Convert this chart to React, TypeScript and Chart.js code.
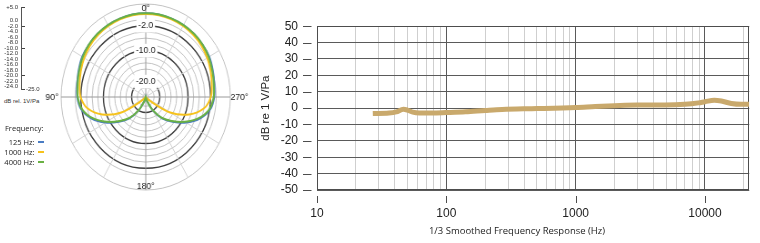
import React, { useEffect, useRef } from 'react';
import { Chart, registerables } from 'chart.js';

Chart.register(...registerables);

const SANS = '"Liberation Sans", Arial, sans-serif';
const OPEN = '"Open Sans", "Liberation Sans", sans-serif';

// ---------- Frequency response (right chart) ----------
const FR_FREQS = [27, 36, 41, 46.6, 50, 55, 62, 78, 100, 141, 200, 270, 505, 1000, 1420, 2000, 2970, 4900, 7000, 8900, 10000, 11800, 13400, 16000, 19100, 22000];
const FR_DB = [-3.3, -3.0, -2.3, -0.7, -1.2, -2.5, -3.0, -3.0, -2.7, -2.2, -1.4, -0.8, -0.3, 0.4, 1.0, 1.5, 1.9, 1.9, 2.3, 3.2, 3.9, 4.8, 4.3, 2.8, 2.3, 2.3];
const FR_Y_TICKS = [50, 40, 30, 20, 10, 0, -10, -20, -30, -40, -50];
const FR_X_GRID = [10, 20, 30, 40, 50, 60, 70, 80, 90, 100, 200, 300, 400, 500, 600, 700, 800, 900, 1000, 2000, 3000, 4000, 5000, 6000, 7000, 8000, 9000, 10000, 20000];
const FR_X_LABELS = [10, 100, 1000, 10000];
const FR_X_MIN = 10;
const FR_X_MAX = 22000;
const FR_Y_TITLE = 'dB re 1 V/Pa';
const FR_X_TITLE = '1/3 Smoothed Frequency Response (Hz)';

// ---------- Polar pattern (left chart) ----------
const POLAR_ANGLES = [0, 350, 340, 330, 320, 310, 300, 290, 280, 270, 260, 250, 240, 230, 220, 210, 200, 190, 180, 170, 160, 150, 140, 130, 120, 110, 100, 90, 80, 70, 60, 50, 40, 30, 20, 10];
const POLAR_125 = [2.0, 2.0, 1.9, 1.8, 1.6, 1.3, 1.0, 0.3, -0.3, -0.7, -1.8, -4.6, -8.5, -12.6, -16.0, -20.0, -23.5, -25, -25, -25, -23.5, -20.0, -16.0, -12.6, -8.5, -4.6, -1.8, -0.7, -0.3, 0.3, 1.0, 1.3, 1.6, 1.8, 1.9, 2.0];
const POLAR_1000 = [1.8, 1.8, 1.7, 1.5, 1.2, 0.8, 0.2, -0.5, -1.2, -1.9, -4.0, -8.6, -15.0, -23.0, -25, -25, -25, -25, -25, -25, -25, -25, -25, -23.0, -15.0, -8.6, -4.0, -1.9, -1.2, -0.5, 0.2, 0.8, 1.2, 1.5, 1.7, 1.8];
const POLAR_4000 = [2.0, 2.0, 1.9, 1.8, 1.6, 1.3, 0.8, 0.1, -0.5, -0.9, -2.1, -5.0, -9.0, -13.0, -16.3, -20.2, -23.5, -25, -25, -25, -23.5, -20.2, -16.3, -13.0, -9.0, -5.0, -2.1, -0.9, -0.5, 0.1, 0.8, 1.3, 1.6, 1.8, 1.9, 2.0];
const POLAR_NAMES = ['125 Hz', '1000 Hz', '4000 Hz'];
const POLAR_COLORS = ['#4a7cc3', '#f6c21c', '#6ab144'];
const POLAR_MIN = -25;
const POLAR_MAX = 5;
const POLAR_RINGS = [-24, -22, -20, -18, -16, -14, -12, -10, -8, -6, -4, -2, 0, 5];
const POLAR_RING_LABELS = [-2, -10, -20];
const POLAR_AXIS_LABELS = [0, 90, 180, 270];

// ---------- dB legend scale ----------
const SCALE_TICKS = [5, 0, -2, -4, -6, -8, -10, -12, -14, -16, -18, -20, -22, -24];
const SCALE_MAJOR = [5, -2, -10, -20];
const SCALE_END = -25;
const SCALE_UNIT = 'dB rel. 1V/Pa';

const fmt1 = (v: number) => (v > 0 ? '+' : '') + v.toFixed(1);

const frMarks = {
  id: 'frMarks',
  beforeDatasetsDraw(chart: any) {
    const { ctx, chartArea: a, scales } = chart;
    const x = scales.x;
    const y = scales.y;
    ctx.save();
    ctx.strokeStyle = '#4d4d4d';
    ctx.lineWidth = 1;
    ctx.strokeRect(Math.round(a.left) + 0.5, Math.round(a.top) + 0.5, Math.round(a.right - a.left) - 1, Math.round(a.bottom - a.top) - 1);
    ctx.beginPath();
    FR_Y_TICKS.forEach((v) => {
      const py = Math.round(y.getPixelForValue(v)) + 0.5;
      ctx.moveTo(a.left - 14, py);
      ctx.lineTo(a.left - 5.5, py);
    });
    FR_X_LABELS.forEach((v) => {
      const px = Math.round(x.getPixelForValue(v)) + 0.5;
      ctx.moveTo(px, a.bottom + 6);
      ctx.lineTo(px, a.bottom + 13);
    });
    ctx.stroke();
    ctx.restore();
  },
};

const polarLabels = {
  id: 'polarLabels',
  afterDraw(chart: any) {
    const r = chart.scales.r;
    const ctx = chart.ctx;
    ctx.save();
    ctx.font = `9.5px ${SANS}`;
    ctx.fillStyle = '#222';
    ctx.textAlign = 'center';
    ctx.textBaseline = 'middle';
    POLAR_AXIS_LABELS.forEach((a) => {
      const i = POLAR_ANGLES.indexOf(a);
      const side = a === 90 || a === 270;
      const p = r.getPointPosition(i, r.drawingArea + (side ? 10 : -4));
      ctx.fillText(a + '°', p.x, p.y);
    });
    ctx.restore();
  },
};

function FrequencyChart() {
  const ref = useRef<HTMLCanvasElement>(null);
  useEffect(() => {
    const chart = new Chart(ref.current as HTMLCanvasElement, {
      type: 'line',
      data: {
        datasets: [
          {
            data: FR_FREQS.map((f, i) => ({ x: f, y: FR_DB[i] })),
            borderColor: '#c9a96c',
            borderWidth: 5,
            pointRadius: 0,
            fill: false,
            cubicInterpolationMode: 'monotone',
          } as any,
        ],
      },
      options: {
        animation: false,
        responsive: false,
        events: [],
        layout: { padding: { top: 9, right: 8, left: 0, bottom: 0 } },
        plugins: { legend: { display: false }, tooltip: { enabled: false } },
        scales: {
          x: {
            type: 'logarithmic',
            min: FR_X_MIN,
            max: FR_X_MAX,
            afterBuildTicks: (s: any) => {
              s.ticks = FR_X_GRID.map((v) => ({ value: v }));
            },
            afterFit: (s: any) => {
              s.height = 53;
            },
            ticks: {
              autoSkip: false,
              maxRotation: 0,
              padding: 16,
              color: '#222',
              font: { family: SANS, size: 12 },
              callback: (v: any) => (FR_X_LABELS.includes(Number(v)) ? String(v) : ''),
            },
            grid: {
              drawTicks: false,
              color: (c: any) => (FR_X_LABELS.includes(c.tick && c.tick.value) ? '#5a5a5a' : '#cfcfcf'),
              lineWidth: 1,
            },
            border: { display: false },
          },
          y: {
            type: 'linear',
            min: -50,
            max: 50,
            afterBuildTicks: (s: any) => {
              s.ticks = FR_Y_TICKS.map((v) => ({ value: v }));
            },
            afterFit: (s: any) => {
              s.width = 67;
            },
            ticks: { autoSkip: false, padding: 19, color: '#222', font: { family: SANS, size: 12 } },
            grid: { drawTicks: false, color: '#5a5a5a', lineWidth: 1 },
            border: { display: false },
            title: {
              display: true,
              text: FR_Y_TITLE,
              color: '#222',
              font: { family: SANS, size: 11.5 },
              padding: { top: 8.8, bottom: 0 },
            },
          },
        },
      } as any,
      plugins: [frMarks],
    });
    return () => chart.destroy();
  }, []);
  return <canvas ref={ref} width={510} height={243} style={{ position: 'absolute', left: 250, top: 0, width: 510, height: 243 }} />;
}

function PolarChart() {
  const ref = useRef<HTMLCanvasElement>(null);
  useEffect(() => {
    const series = [POLAR_125, POLAR_1000, POLAR_4000];
    const orders = [3, 2, 1];
    const chart = new Chart(ref.current as HTMLCanvasElement, {
      type: 'radar',
      data: {
        labels: POLAR_ANGLES.map((a) => a + '°'),
        datasets: series.map((d, i) => ({
          label: POLAR_NAMES[i],
          data: d,
          borderColor: POLAR_COLORS[i],
          backgroundColor: 'rgba(0,0,0,0)',
          borderWidth: 2,
          pointRadius: 0,
          fill: false,
          tension: 0.3,
          order: orders[i],
        })),
      },
      options: {
        animation: false,
        responsive: false,
        events: [],
        layout: { padding: 14 },
        plugins: { legend: { display: false }, tooltip: { enabled: false } },
        scales: {
          r: {
            min: POLAR_MIN,
            max: POLAR_MAX,
            startAngle: 0,
            afterBuildTicks: (s: any) => {
              s.ticks = POLAR_RINGS.map((v) => ({ value: v }));
            },
            ticks: {
              display: true,
              autoSkip: false,
              color: '#222',
              font: { family: SANS, size: 9.5 },
              showLabelBackdrop: true,
              backdropPadding: 2,
              backdropColor: (c: any) => (c.tick && POLAR_RING_LABELS.includes(c.tick.value) ? '#ffffff' : 'rgba(0,0,0,0)'),
              callback: (v: any) => (POLAR_RING_LABELS.includes(Number(v)) ? Number(v).toFixed(1) : ''),
            },
            grid: {
              circular: true,
              color: (c: any) => (c.tick && POLAR_RING_LABELS.includes(c.tick.value) ? '#3d3d3d' : '#c2c2c2'),
              lineWidth: (c: any) => (c.tick && POLAR_RING_LABELS.includes(c.tick.value) ? 1.4 : 1),
            },
            angleLines: {
              display: true,
              color: (c: any) => (c.index % 9 === 0 ? '#9a9a9a' : c.index % 3 === 0 ? '#d2d2d2' : 'rgba(0,0,0,0)'),
              lineWidth: 1,
            },
            pointLabels: { display: false },
          },
        },
      } as any,
      plugins: [polarLabels],
    });
    return () => chart.destroy();
  }, []);
  return (
    <div style={{ position: 'absolute', left: 41.6, top: -17.3, width: 228, height: 228, transform: 'scaleX(0.9097)', transformOrigin: '0 0' }}>
      <canvas ref={ref} width={228} height={228} style={{ width: 228, height: 228 }} />
    </div>
  );
}

function ScaleLegend() {
  const ref = useRef<HTMLCanvasElement>(null);
  useEffect(() => {
    const chart = new Chart(ref.current as HTMLCanvasElement, {
      type: 'scatter',
      data: { datasets: [] },
      options: {
        animation: false,
        responsive: false,
        events: [],
        layout: { padding: { top: 7, bottom: 6.5, left: 0, right: 0 } },
        plugins: { legend: { display: false }, tooltip: { enabled: false } },
        scales: {
          x: { type: 'linear', display: false, min: 0, max: 1 },
          y: {
            type: 'linear',
            position: 'left',
            min: SCALE_END,
            max: 5,
            afterBuildTicks: (s: any) => {
              s.ticks = SCALE_TICKS.map((v) => ({ value: v }));
            },
            afterFit: (s: any) => {
              s.width = 21;
            },
            ticks: { autoSkip: false, padding: 3, color: '#333', font: { family: SANS, size: 6 }, callback: (v: any) => fmt1(Number(v)) },
            grid: {
              drawTicks: false,
              color: (c: any) => (c.tick && SCALE_MAJOR.includes(c.tick.value) ? '#444' : 'rgba(0,0,0,0)'),
            },
            border: { display: true, color: '#555' },
          },
          y2: {
            type: 'linear',
            position: 'right',
            min: SCALE_END,
            max: 5,
            afterBuildTicks: (s: any) => {
              s.ticks = [{ value: SCALE_END }];
            },
            afterFit: (s: any) => {
              s.width = 16;
            },
            ticks: { autoSkip: false, padding: 1, color: '#333', font: { family: SANS, size: 6 }, callback: (v: any) => fmt1(Number(v)) },
            grid: { drawTicks: false, color: '#444' },
            border: { display: false },
          },
        },
      } as any,
    });
    return () => chart.destroy();
  }, []);
  return <canvas ref={ref} width={41} height={96} style={{ position: 'absolute', left: 0, top: 0, width: 41, height: 96 }} />;
}

export default function App() {
  const txt: React.CSSProperties = { position: 'absolute', color: '#222', whiteSpace: 'nowrap' };
  return (
    <div style={{ position: 'absolute', left: 0, top: 0, width: 760, height: 243, overflow: 'hidden', background: '#fff' }}>
      <ScaleLegend />
      <div style={{ ...txt, left: 4, top: 97, fontFamily: SANS, fontSize: 6, lineHeight: '8px', color: '#333' }}>{SCALE_UNIT}</div>
      <PolarChart />
      <div style={{ ...txt, left: 5, top: 123, fontFamily: OPEN, fontSize: 7.5, lineHeight: '10px' }}>Frequency:</div>
      {POLAR_NAMES.map((n, i) => (
        <React.Fragment key={n}>
          <div style={{ ...txt, left: 0, width: 34.5, textAlign: 'right', top: 136.7 + i * 10, fontFamily: OPEN, fontSize: 7.5, lineHeight: '10px' }}>{n}:</div>
          <div style={{ position: 'absolute', left: 38.3, top: 140.8 + i * 10, width: 6, height: 2.6, background: POLAR_COLORS[i] }} />
        </React.Fragment>
      ))}
      <FrequencyChart />
      <div style={{ ...txt, left: 517, top: 225, transform: 'translateX(-50%)', fontFamily: OPEN, fontSize: 9.5, lineHeight: '12px' }}>{FR_X_TITLE}</div>
    </div>
  );
}
